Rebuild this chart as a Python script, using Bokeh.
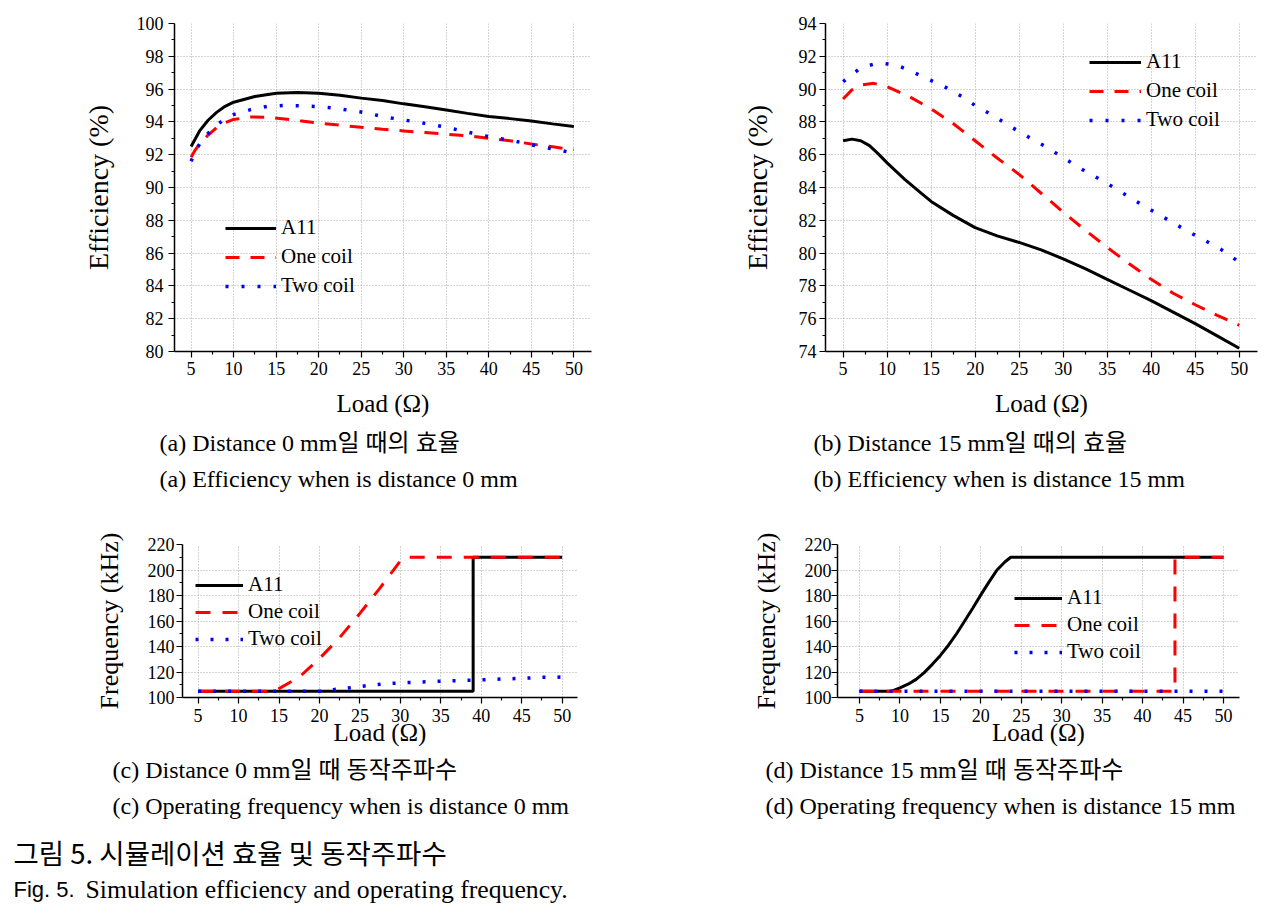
from bokeh.plotting import figure
from bokeh.layouts import column, row
from bokeh.models import Range1d, FixedTicker, Legend, LegendItem
from bokeh.core.properties import value
from bokeh.embed import file_html
from bokeh.resources import INLINE

SERIF = "Liberation Serif, Noto Sans CJK KR"
SANS_KR = "Noto Sans CJK KR"
SANS = "Liberation Sans"

# ---------------- data ----------------
series_names = ["A11", "One coil", "Two coil"]
x_ticks = [5, 10, 15, 20, 25, 30, 35, 40, 45, 50]
x_minor = [7.5, 12.5, 17.5, 22.5, 27.5, 32.5, 37.5, 42.5, 47.5]

# (a) Efficiency at distance 0 mm
a_all_x = [5, 6, 7, 8, 9, 10, 12.5, 15, 17.5, 20, 22.5, 25, 27.5, 30, 32.5, 35, 37.5, 40, 42.5, 45, 47.5, 50]
a_all_y = [92.5, 93.45, 94.1, 94.58, 94.95, 95.2, 95.55, 95.75, 95.8, 95.75, 95.62, 95.45, 95.3, 95.1, 94.92, 94.72, 94.52, 94.33, 94.2, 94.05, 93.88, 93.72]
a_one_x = [5, 5.5, 6, 7, 8, 9, 10, 12, 14, 16, 18, 20, 22.5, 25, 27.5, 30, 32.5, 35, 37.5, 40, 42.5, 45, 47.5, 50]
a_one_y = [91.85, 92.3, 92.65, 93.2, 93.65, 93.95, 94.15, 94.3, 94.28, 94.18, 94.05, 93.92, 93.8, 93.67, 93.55, 93.45, 93.35, 93.25, 93.15, 93.0, 92.85, 92.65, 92.48, 92.3]
a_two_x = [5, 5.5, 6, 7, 8, 9, 10, 12, 14, 16, 18, 20, 22, 25, 28, 30, 33, 35, 38, 40, 43, 45, 48, 50]
a_two_y = [91.6, 92.2, 92.65, 93.3, 93.8, 94.2, 94.45, 94.75, 94.95, 95.0, 94.98, 94.93, 94.83, 94.6, 94.28, 94.12, 93.87, 93.67, 93.32, 93.1, 92.84, 92.6, 92.3, 92.1]
a_y_ticks = [80, 82, 84, 86, 88, 90, 92, 94, 96, 98, 100]
a_y_minor = [81, 83, 85, 87, 89, 91, 93, 95, 97, 99]

# (b) Efficiency at distance 15 mm
b_all_x = [5, 6, 7, 8, 9, 10, 12, 14, 15, 17.5, 20, 22.5, 25, 27.5, 30, 32.5, 35, 37.5, 40, 42.5, 45, 47.5, 50]
b_all_y = [86.85, 86.95, 86.85, 86.55, 86.05, 85.5, 84.5, 83.6, 83.15, 82.3, 81.55, 81.05, 80.65, 80.2, 79.65, 79.05, 78.4, 77.75, 77.1, 76.4, 75.7, 74.95, 74.2]
b_one_x = [5, 6, 7, 8.5, 10, 12.5, 15, 17.5, 20, 22.5, 25, 27.5, 30, 32.5, 35, 37.5, 40, 42.5, 45, 47.5, 50]
b_one_y = [89.4, 89.95, 90.25, 90.35, 90.15, 89.55, 88.8, 87.9, 86.85, 85.8, 84.8, 83.65, 82.5, 81.4, 80.35, 79.35, 78.4, 77.55, 76.85, 76.2, 75.6]
b_two_x = [5, 7, 9, 11, 12.5, 14.5, 16.5, 18.5, 20, 22, 24, 26, 28, 30, 32, 34, 36, 38, 40, 42, 44, 46, 48, 50]
b_two_y = [90.45, 91.3, 91.6, 91.48, 91.15, 90.65, 90.15, 89.55, 89.0, 88.4, 87.72, 87.1, 86.5, 85.82, 85.15, 84.55, 83.92, 83.25, 82.62, 82.0, 81.38, 80.8, 80.2, 79.45]
b_y_ticks = [74, 76, 78, 80, 82, 84, 86, 88, 90, 92, 94]
b_y_minor = [75, 77, 79, 81, 83, 85, 87, 89, 91, 93]

# (c) Operating frequency at distance 0 mm
c_all_x = [5, 39, 39, 50]
c_all_y = [105, 105, 210, 210]
c_one_x = [5, 14.5, 15, 17.5, 20, 22.5, 25, 27.5, 30, 30.5, 50]
c_one_y = [105, 105, 107, 116, 130.5, 147, 166, 186, 207, 210, 210]
c_two_x = [5, 21, 22, 24, 26, 28, 30, 32, 34, 36, 38, 40, 42.5, 45, 47.5, 50]
c_two_y = [105, 105, 106.5, 107.8, 109.4, 110.7, 111.5, 112, 112.5, 113, 113.4, 113.8, 114.5, 115, 115.8, 116]
f_y_ticks = [100, 120, 140, 160, 180, 200, 220]
f_y_minor = [110, 130, 150, 170, 190, 210]

# (d) Operating frequency at distance 15 mm
d_all_x = [5, 9, 10, 11, 12, 13, 14, 15, 16, 17, 18, 19, 20, 21, 22, 23, 23.7, 50]
d_all_y = [105, 105, 107.6, 110.4, 114.2, 119.5, 126, 133, 141, 150, 160, 170, 180.5, 190.5, 200, 206.5, 210, 210]
d_one_x = [5, 44, 44, 50]
d_one_y = [105, 105, 210, 210]
d_two_x = [5, 50]
d_two_y = [105, 105]

# captions
cap_top_texts = ["(a) Distance 0 mm일 때의 효율", "(a) Efficiency when is distance 0 mm",
                 "(b) Distance 15 mm일 때의 효율", "(b) Efficiency when is distance 15 mm"]
cap_bot_texts = ["(c) Distance 0 mm일 때 동작주파수", "(c) Operating frequency when is distance 0 mm",
                 "(d) Distance 15 mm일 때 동작주파수", "(d) Operating frequency when is distance 15 mm"]
fig_title_kr = "그림 5. 시뮬레이션 효율 및 동작주파수"
fig_title_en_a = "Fig. 5."
fig_title_en_b = "Simulation efficiency and operating frequency."


def panel(width, height, mb, xr, yr, yticks, yminor, ylabel,
          data, dashes, legend_loc, glyph_w, spacing,
          ylab_standoff, ytick_standoff, xlab_standoff, xtick_standoff, ylab_size):
    p = figure(width=width, height=height, output_backend="svg", toolbar_location=None,
               x_range=Range1d(*xr), y_range=Range1d(*yr),
               min_border_left=mb[0], min_border_right=mb[1],
               min_border_top=mb[2], min_border_bottom=mb[3])
    p.outline_line_color = None
    p.background_fill_color = "white"
    p.border_fill_color = "white"

    p.xaxis.ticker = FixedTicker(ticks=x_ticks, minor_ticks=x_minor)
    p.yaxis.ticker = FixedTicker(ticks=yticks, minor_ticks=yminor)
    p.xaxis.axis_label = "Load (Ω)"
    p.yaxis.axis_label = ylabel
    for ax in (p.xaxis[0], p.yaxis[0]):
        ax.axis_line_color = "black"
        ax.axis_line_width = 1.5
        ax.major_tick_line_color = "black"
        ax.minor_tick_line_color = "black"
        ax.major_tick_line_width = 1.2
        ax.minor_tick_line_width = 1.2
        ax.major_tick_in = 0
        ax.major_tick_out = 6
        ax.minor_tick_in = 0
        ax.minor_tick_out = 3
        ax.major_label_text_font = SERIF
        ax.major_label_text_font_size = "18px"
        ax.major_label_text_color = "black"
        ax.axis_label_text_font = SERIF
        ax.axis_label_text_font_style = "normal"
        ax.axis_label_text_color = "black"
    p.xaxis.axis_label_text_font_size = "25px"
    p.yaxis.axis_label_text_font_size = ylab_size
    p.xaxis.axis_label_standoff = xlab_standoff
    p.yaxis.axis_label_standoff = ylab_standoff
    p.xaxis.major_label_standoff = xtick_standoff
    p.yaxis.major_label_standoff = ytick_standoff

    p.grid.grid_line_color = "#a8a8a8"
    p.grid.grid_line_dash = "1 2"
    p.grid.grid_line_width = 1

    colors = ["black", "red", "blue"]
    widths = [3, 3, 3.5]
    items = []
    for (xs, ys), col, w, dash, name in zip(data, colors, widths, dashes, series_names):
        r = p.line(xs, ys, line_color=col, line_width=w, line_dash=dash)
        items.append(LegendItem(label=name, renderers=[r]))
    leg = Legend(items=items, location=legend_loc, glyph_width=glyph_w, glyph_height=20,
                 label_standoff=5, spacing=spacing, padding=0, margin=0,
                 border_line_color=None, background_fill_alpha=0,
                 label_text_font=SERIF, label_text_font_size="21px",
                 label_text_color="black", label_height=20)
    p.add_layout(leg)
    return p


pa = panel(640, 428, (174, 49, 22, 75), (3.05, 52.07), (80, 100), a_y_ticks, a_y_minor,
           "Efficiency (%)",
           [(a_all_x, a_all_y), (a_one_x, a_one_y), (a_two_x, a_two_y)],
           ["solid", "14 11", "3 13"], (51, 53), 51, 4, 20, 5, 12, 4, "28px")
pb = panel(634, 428, (185, 17, 23, 77), (3.0, 52.08), (74, 94), b_y_ticks, b_y_minor,
           "Efficiency (%)",
           [(b_all_x, b_all_y), (b_one_x, b_one_y), (b_two_x, b_two_y)],
           ["solid", "14 11", "3 13"], (264, 219), 52, 4, 23, 3, 12, 4, "28px")
pc = panel(640, 252, (182, 63, 44, 54), (3.07, 51.9), (100, 220), f_y_ticks, f_y_minor,
           "Frequency (kHz)",
           [(c_all_x, c_all_y), (c_one_x, c_one_y), (c_two_x, c_two_y)],
           ["solid", "15 12", "3 12"], (13, 46), 48, 2, 21, 2, -6, 5, "26px")
pd_ = panel(634, 252, (197, 35, 42, 55), (2.28, 51.98), (100, 220), f_y_ticks, f_y_minor,
            "Frequency (kHz)",
            [(d_all_x, d_all_y), (d_one_x, d_one_y), (d_two_x, d_two_y)],
            ["solid", "15 12", "3 12"], (177, 33), 48, 2, 21, 0, -6, 5, "26px")


def caption_fig(height, y0, y1):
    c = figure(width=1274, height=height, output_backend="svg", toolbar_location=None,
               x_range=Range1d(0, 1274), y_range=Range1d(y1, y0),
               x_axis_location=None, y_axis_location=None, min_border=0)
    c.outline_line_color = None
    c.grid.visible = False
    return c


cap1 = caption_fig(72, 428, 500)
cap1.text(x=[159, 159, 813, 813], y=[442, 478, 442, 478], text=cap_top_texts,
          text_font=value(SERIF), text_font_size="24px", text_color="black",
          text_baseline="middle", text_align="left")

cap2 = caption_fig(160, 752, 912)
cap2.text(x=[112, 112, 765, 765], y=[769, 805, 769, 805], text=cap_bot_texts,
          text_font=value(SERIF), text_font_size="24px", text_color="black",
          text_baseline="middle", text_align="left")
cap2.text(x=[13], y=[851], text=[fig_title_kr], text_font=value(SANS_KR),
          text_font_size="27.5px", text_color="black", text_baseline="middle", text_align="left")
cap2.text(x=[13], y=[889], text=[fig_title_en_a], text_font=value(SANS),
          text_font_size="22px", text_color="black", text_baseline="middle", text_align="left")
cap2.text(x=[85], y=[889], text=[fig_title_en_b], text_font=value(SERIF),
          text_font_size="25.7px", text_color="black", text_baseline="middle", text_align="left")

layout = column(row(pa, pb, spacing=0), cap1, row(pc, pd_, spacing=0), cap2, spacing=0)

open("out.html", "w").write(file_html(layout, INLINE))
